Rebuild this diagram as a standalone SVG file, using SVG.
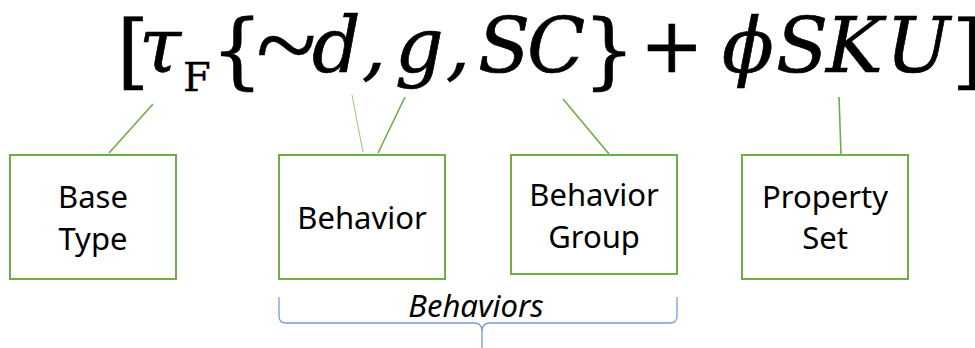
<svg xmlns="http://www.w3.org/2000/svg" width="975" height="348" viewBox="0 0 975 348">
  <style>
    .box { fill: #ffffff; stroke: #70AD47; stroke-width: 2; }
    .lbl { font-family: "Noto Sans", "Liberation Sans", sans-serif; font-size: 31px; fill: #000000; text-anchor: middle; }
    .link { stroke: #70AD47; stroke-width: 1.6; fill: none; }
    .link.thin { stroke: #9BCB80; stroke-width: 1.1; }
    .math { font-family: "DejaVu Serif", "Liberation Serif", serif; fill: #000000; stroke: #000000; stroke-width: 0.7; }
    .it { font-style: italic; font-size: 76px; }
    .up { font-size: 76px; }
    .sub { font-size: 40px; stroke-width: 0.3; }
    .tilde { font-family: "Liberation Serif", serif; font-size: 112px; stroke-width: 0.4; }
    .fence { font-size: 82px; }
    .brace { stroke: #7B9BD6; stroke-width: 1.3; fill: none; }
    .group-lbl { font-family: "Noto Sans", "Liberation Sans", sans-serif; font-style: italic; font-size: 31px; fill: #000000; text-anchor: middle; }
  </style>

  <!-- formula -->
  <g id="formula" class="math">
    <text class="fence" x="117" y="79">[</text>
    <text class="it" x="139" y="72">τ</text>
    <text class="sub" x="183" y="91">F</text>
    <text class="fence" x="211" y="79">{</text>
    <text class="tilde" x="256" y="83">~</text>
    <text class="it" x="312" y="72">d</text>
    <text class="it" x="362" y="72">,</text>
    <text class="it" x="395" y="72">g</text>
    <text class="it" x="446" y="72">,</text>
    <text class="it" x="478" y="72">S</text>
    <text class="it" x="527" y="72">C</text>
    <text class="fence" x="583" y="79">}</text>
    <text class="up" x="640" y="72">+</text>
    <text class="it" x="722" y="72">ϕ</text>
    <text class="it" x="776" y="72">S</text>
    <text class="it" x="826" y="72">K</text>
    <text class="it" x="886" y="72">U</text>
    <text class="fence" x="952" y="79">]</text>
  </g>

  <!-- connectors from formula terms to boxes -->
  <g id="connectors">
    <line class="link" x1="153" y1="104" x2="109" y2="153"/>
    <line class="link thin" x1="352" y1="95" x2="363" y2="152"/>
    <line class="link" x1="405" y1="97" x2="378" y2="153"/>
    <line class="link" x1="563" y1="99" x2="609" y2="154"/>
    <line class="link" x1="839" y1="97" x2="841" y2="154"/>
  </g>

  <g id="base-type">
    <rect class="box" x="10" y="155" width="166" height="124"/>
    <text class="lbl" x="93" y="208">Base</text>
    <text class="lbl" x="93" y="250">Type</text>
  </g>

  <g id="behavior">
    <rect class="box" x="279" y="155" width="166" height="124"/>
    <text class="lbl" x="362" y="229">Behavior</text>
  </g>

  <g id="behavior-group">
    <rect class="box" x="511" y="155" width="166" height="119"/>
    <text class="lbl" x="594" y="206">Behavior</text>
    <text class="lbl" x="594" y="248">Group</text>
  </g>

  <g id="property-set">
    <rect class="box" x="742" y="155" width="166" height="124"/>
    <text class="lbl" x="825" y="208">Property</text>
    <text class="lbl" x="825" y="249">Set</text>
  </g>

  <!-- brace grouping the behavior boxes -->
  <g id="behaviors">
    <path class="brace" d="M279,297 L279,316 Q279,323 286,323 L474,323 Q482,323 482,331 L482,348 M482,331 Q482,323 490,323 L670,323 Q677,323 677,316 L677,297"/>
    <text class="group-lbl" x="476" y="317">Behaviors</text>
  </g>
</svg>
